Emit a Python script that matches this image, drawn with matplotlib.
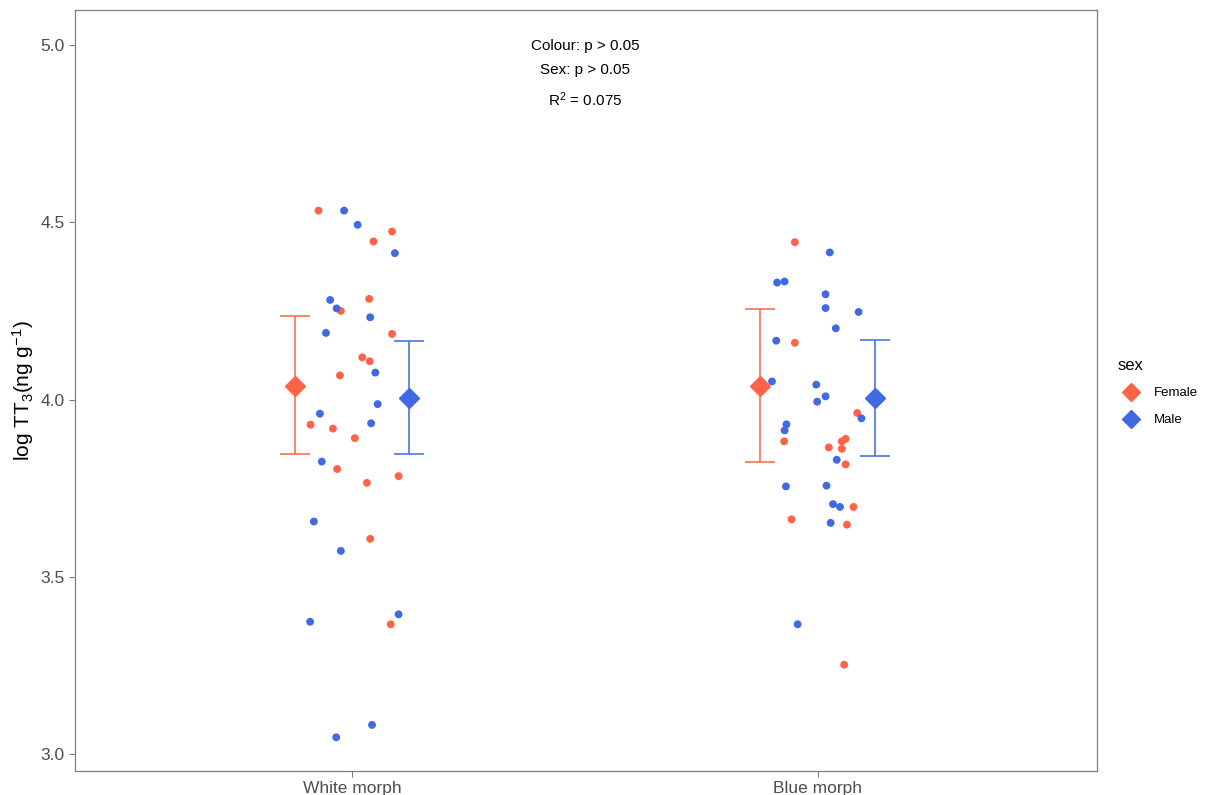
import matplotlib
matplotlib.use("Agg")
import matplotlib.pyplot as plt
from matplotlib.lines import Line2D

plt.rcParams['font.family'] = ['Liberation Sans', 'DejaVu Sans']
plt.rcParams['mathtext.fontset'] = 'custom'
plt.rcParams['mathtext.rm'] = 'Liberation Sans'
plt.rcParams['mathtext.it'] = 'Liberation Sans:italic'
plt.rcParams['mathtext.default'] = 'regular'

categories = ["White morph", "Blue morph"]
sexes = ["Female", "Male"]
colors = {"Female": "#FF6347", "Male": "#4169E1"}

white_female_y = [4.533, 4.474, 4.446, 4.284, 4.250, 4.185, 4.119, 4.108, 4.068, 3.929,
                  3.918, 3.891, 3.804, 3.784, 3.765, 3.607, 3.366]
white_female_jit = [-0.072, 0.086, 0.046, 0.037, -0.024, 0.086, 0.022, 0.038, -0.026, -0.089,
                    -0.041, 0.006, -0.032, 0.100, 0.032, 0.039, 0.083]
white_male_y = [4.533, 4.493, 4.413, 4.281, 4.257, 4.232, 4.188, 4.076, 3.987, 3.960,
                3.933, 3.825, 3.656, 3.573, 3.394, 3.373, 3.082, 3.047]
white_male_jit = [-0.017, 0.012, 0.092, -0.047, -0.033, 0.039, -0.056, 0.050, 0.055, -0.069,
                  0.041, -0.065, -0.082, -0.024, 0.100, -0.090, 0.043, -0.034]
blue_female_y = [4.444, 4.160, 3.962, 3.889, 3.882, 3.882, 3.865, 3.861, 3.817, 3.697,
                 3.662, 3.647, 3.252]
blue_female_jit = [-0.049, -0.049, 0.085, 0.060, 0.052, -0.072, 0.024, 0.052, 0.060, 0.077,
                   -0.056, 0.063, 0.057]
blue_male_y = [4.415, 4.330, 4.333, 4.297, 4.258, 4.247, 4.201, 4.166, 4.051, 4.042,
               4.009, 3.994, 3.947, 3.930, 3.913, 3.830, 3.755, 3.757, 3.705, 3.697,
               3.652, 3.366]
blue_male_jit = [0.026, -0.087, -0.071, 0.017, 0.017, 0.088, 0.039, -0.089, -0.098, -0.003,
                 0.017, -0.001, 0.094, -0.067, -0.071, 0.041, -0.068, 0.019, 0.033, 0.048,
                 0.028, -0.043]

# group means and intervals (order: White morph, Blue morph)
female_mean = [4.039, 4.039]
female_lo = [3.845, 3.825]
female_hi = [4.236, 4.255]
male_mean = [4.004, 4.003]
male_lo = [3.845, 3.840]
male_hi = [4.164, 4.168]

annot_lines = ["Colour: p > 0.05", "Sex: p > 0.05", "R$^2$ = 0.075"]

fig = plt.figure(figsize=(12.08, 7.95), dpi=100)
ax = fig.add_axes([75/1208, 1-771/795, (1097-75)/1208, (771-10)/795])

raw = [
    (0, "Female", white_female_y, white_female_jit),
    (0, "Male", white_male_y, white_male_jit),
    (1, "Female", blue_female_y, blue_female_jit),
    (1, "Male", blue_male_y, blue_male_jit),
]
for ci, sex, ys, jit in raw:
    xs = [ci + 1 + j for j in jit]
    ax.scatter(xs, ys, s=32, color=colors[sex], edgecolors='none', zorder=3)

dodge = 0.123
for sex, means, lo, hi, off in [("Female", female_mean, female_lo, female_hi, -dodge),
                                ("Male", male_mean, male_lo, male_hi, dodge)]:
    for i in range(len(categories)):
        x = i + 1 + off
        ax.errorbar([x], [means[i]], yerr=[[means[i]-lo[i]], [hi[i]-means[i]]],
                    fmt='none', ecolor=colors[sex], alpha=0.8, elinewidth=1.4,
                    capsize=11, capthick=1.4, zorder=4)
        ax.plot([x], [means[i]], marker='D', markersize=10, color=colors[sex],
                markeredgecolor=colors[sex], linestyle='none', zorder=5)

for k, (txt, yy) in enumerate(zip(annot_lines, [4.997, 4.929, 4.845])):
    ax.text(1.5, yy, txt, ha='center', va='center', fontsize=11, color='black')

ax.set_xlim(0.405, 2.6)
ax.set_ylim(2.952, 5.099)
ax.set_xticks([1, 2])
ax.set_xticklabels(categories)
ax.set_yticks([3.0, 3.5, 4.0, 4.5, 5.0])
ax.set_yticklabels(["3.0", "3.5", "4.0", "4.5", "5.0"])
ax.tick_params(axis='both', colors='#7F7F7F', labelcolor='#4D4D4D', labelsize=12.5,
               length=4, width=0.8)
for sp in ax.spines.values():
    sp.set_color('#7F7F7F')
    sp.set_linewidth(0.9)
ax.set_ylabel("log TT$_3$(ng g$^{-1}$)", fontsize=15, color='black', labelpad=3)

handles = [Line2D([0], [0], marker='D', color=colors[s], markersize=9, linestyle='none')
           for s in sexes]
leg = fig.legend(handles, sexes, title="sex", loc='center left',
                 bbox_to_anchor=(1106/1208, 1-392/795), frameon=False,
                 fontsize=9.5, title_fontsize=12, handletextpad=0.7, labelspacing=1.1,
                 alignment='left')

fig.savefig("out.png", dpi=100)
